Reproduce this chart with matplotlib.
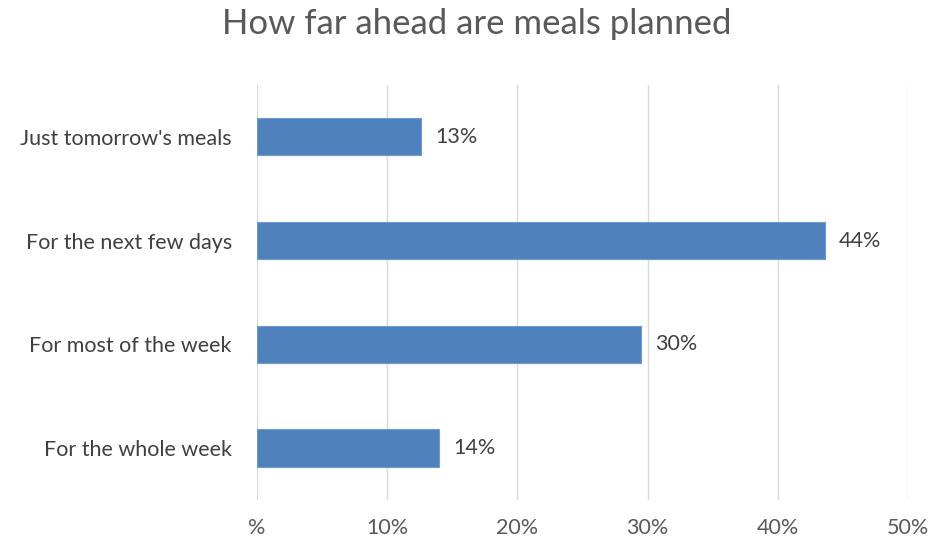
import matplotlib
matplotlib.use("Agg")
import matplotlib.pyplot as plt
import numpy as np

plt.rcParams['font.family'] = ['Lato', 'DejaVu Sans']

# categories, top to bottom
categories = ["Just tomorrow's meals", "For the next few days",
              "For most of the week", "For the whole week"]
# share of respondents (%)
values = [12.6, 43.6, 29.5, 14.0]
xticks = [0, 10, 20, 30, 40, 50]
xticklabels = ["%", "10%", "20%", "30%", "40%", "50%"]

fig = plt.figure(figsize=(9.32, 5.4), dpi=100)
ax = fig.add_axes([0.2757, 0.074, 0.6985, 0.769])

y = np.arange(len(categories))
ax.barh(y, values, height=0.36, color="#4F81BD", edgecolor="#6E9AD0",
        linewidth=0.8, zorder=3)

for yi, v in zip(y, values):
    ax.text(v + 1.1, yi, f"{v:.0f}%", va="center", ha="left",
            fontsize=15.5, color="#404040")

ax.set_ylim(len(categories) - 0.5, -0.5)
ax.set_yticks(y)
ax.set_yticklabels(categories, fontsize=15.5, color="#404040")
ax.set_xlim(0, 50)
ax.set_xticks(xticks)
ax.set_xticklabels(xticklabels, fontsize=15.5, color="#595959")
ax.xaxis.grid(True, color="#D9D9D9", linewidth=1, zorder=0)
ax.tick_params(axis="both", length=0)
ax.tick_params(axis="y", pad=18)
ax.tick_params(axis="x", pad=13)
for s in ax.spines.values():
    s.set_visible(False)

fig.suptitle("How far ahead are meals planned", fontsize=25,
             color="#595959", x=0.511, y=0.985)

fig.savefig("out.png", dpi=100)
